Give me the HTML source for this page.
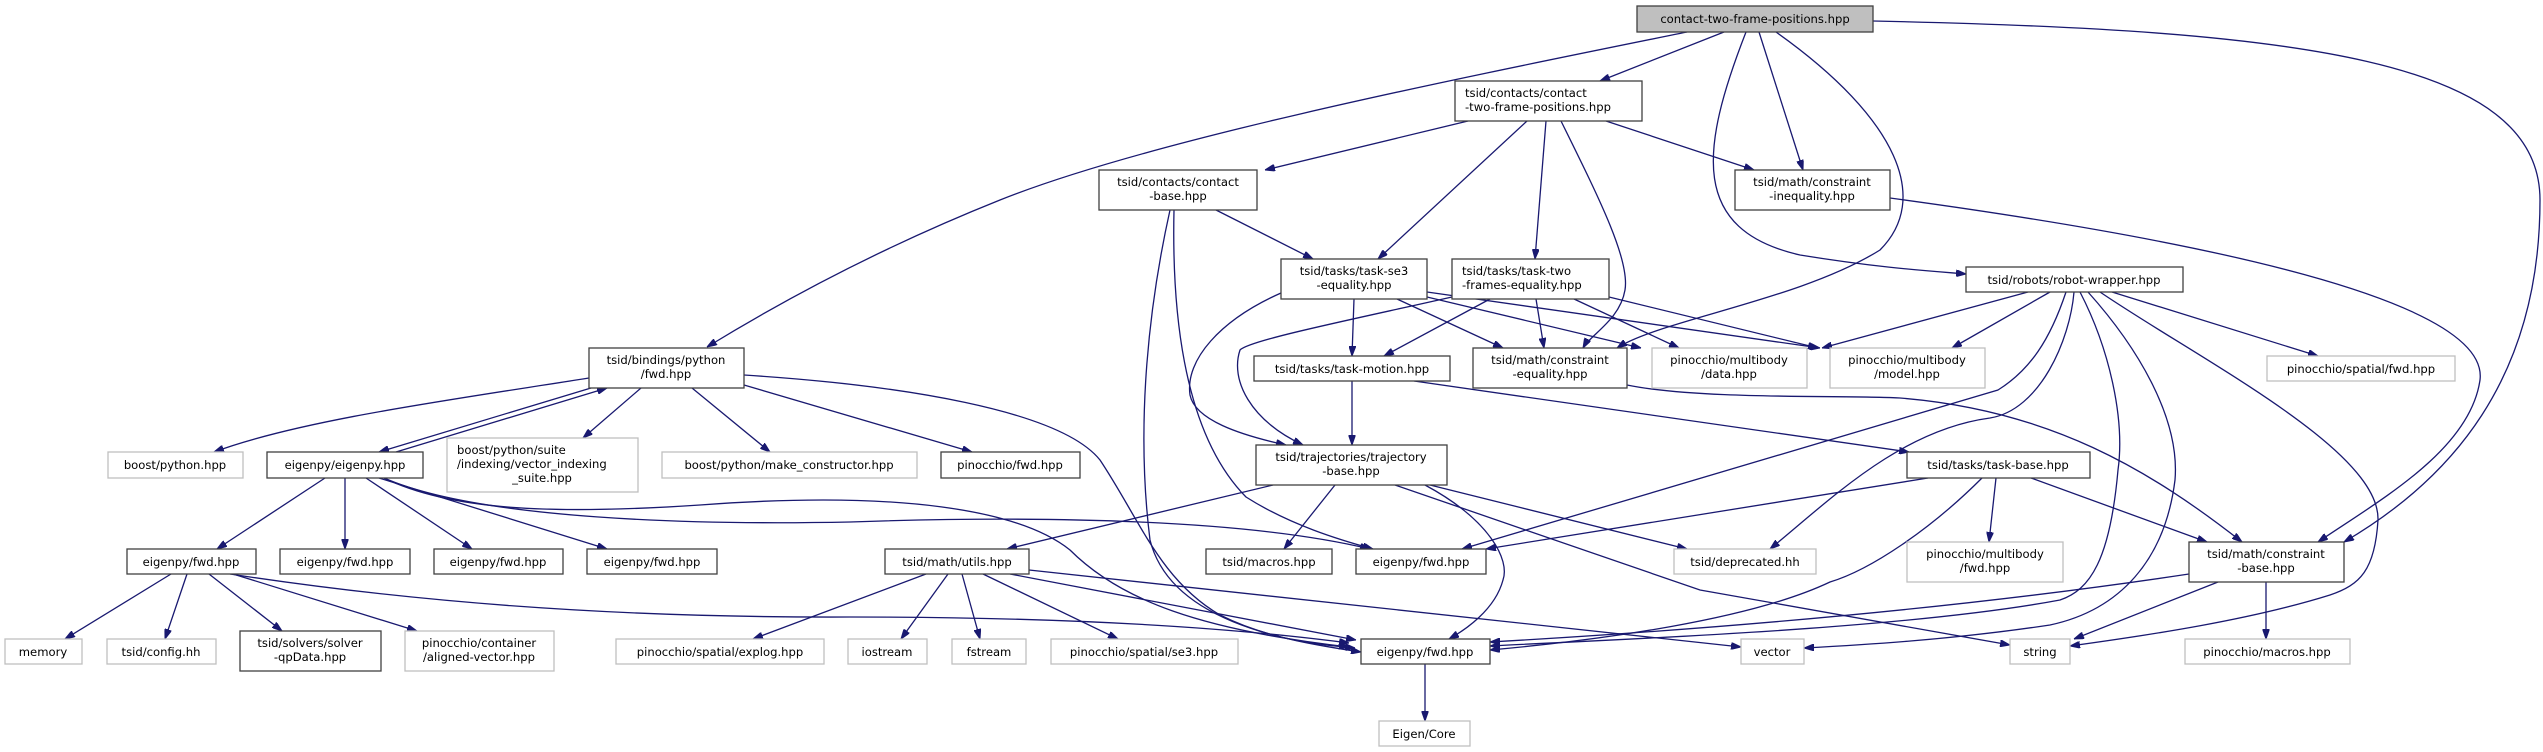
<!DOCTYPE html>
<html><head><meta charset="utf-8"><style>
html,body{margin:0;padding:0;background:#fff;}
svg{display:block;}
text{font-family:"DejaVu Sans","Liberation Sans",sans-serif;font-size:11.6px;fill:#000;}
.e{fill:none;stroke:#191970;stroke-width:1.3;}
.b{fill:#fff;stroke:#404040;stroke-width:1.3;}
.g{fill:#fff;stroke:#bfbfbf;stroke-width:1.3;}
</style></head><body>
<svg width="2543" height="752" viewBox="0 0 2543 752" xmlns="http://www.w3.org/2000/svg">
<defs>
<marker id="a" viewBox="0 0 10 7" refX="10" refY="3.5" markerWidth="10" markerHeight="7" markerUnits="userSpaceOnUse" orient="auto">
<path d="M0,0 L10,3.5 L0,7 z" fill="#191970" stroke="#191970"/>
</marker>
</defs>
<g marker-end="url(#a)">
<!-- root -->
<path class="e" d="M1687,32 C1450,80 1150,140 1000,200 C900,240 800,290 707,347"/>
<path class="e" d="M1724,32 L1600,81"/>
<path class="e" d="M1759,32 L1803,170"/>
<path class="e" d="M1746,32 C1700,150 1690,230 1800,255 C1880,268 1930,271 1966,274"/>
<path class="e" d="M1776,32 C1900,120 1930,200 1880,250 C1800,300 1660,320 1617,348"/>
<path class="e" d="M1873,21 C2300,30 2540,60 2540,200 C2540,380 2450,480 2344,542"/>
<!-- contact two frame -->
<path class="e" d="M1468,121 L1265,170"/>
<path class="e" d="M1527,121 L1378,259"/>
<path class="e" d="M1546,121 L1535,259"/>
<path class="e" d="M1561,121 C1600,200 1630,260 1625,290 C1620,320 1590,335 1583,348"/>
<path class="e" d="M1606,121 L1754,170"/>
<!-- contact base -->
<path class="e" d="M1216,210 L1313,259"/>
<path class="e" d="M1170,210 C1150,300 1135,420 1150,540 C1170,620 1280,640 1361,652"/>
<path class="e" d="M1174,210 C1172,300 1180,430 1246,497 C1290,525 1340,540 1373,549"/>
<!-- task se3 -->
<path class="e" d="M1354,299 L1352,356"/>
<path class="e" d="M1397,299 L1503,348"/>
<path class="e" d="M1427,297 L1641,348"/>
<path class="e" d="M1427,292 L1820,348"/>
<path class="e" d="M1281,293 C1220,320 1185,360 1190,395 C1195,420 1240,435 1286,445"/>
<!-- task two frames -->
<path class="e" d="M1490,299 L1384,356"/>
<path class="e" d="M1536,299 L1544,348"/>
<path class="e" d="M1574,299 L1679,348"/>
<path class="e" d="M1609,297 L1818,348"/>
<path class="e" d="M1452,297 C1350,320 1250,340 1240,350 C1230,380 1250,420 1303,445"/>
<!-- robot wrapper -->
<path class="e" d="M2028,292 L1822,348"/>
<path class="e" d="M2050,292 L1952,348"/>
<path class="e" d="M2112,292 L2318,356"/>
<path class="e" d="M2066,292 C2050,340 2030,370 1998,390 L1462,549"/>
<path class="e" d="M2074,292 C2070,340 2040,410 1990,418 C1900,430 1830,500 1770,549"/>
<path class="e" d="M2080,292 C2110,350 2125,420 2118,470 C2110,560 2090,590 2060,600 C1900,630 1600,640 1490,646"/>
<path class="e" d="M2088,292 C2140,350 2180,420 2175,480 C2165,560 2120,610 2050,625 C1950,640 1860,645 1804,648"/>
<path class="e" d="M2100,292 C2200,360 2380,450 2378,520 C2375,570 2360,585 2330,595 C2250,620 2150,635 2070,646"/>
<!-- constraint inequality -->
<path class="e" d="M1890,198 C2200,240 2490,300 2480,380 C2470,450 2380,500 2318,542"/>
<!-- constraint equality -->
<path class="e" d="M1627,385 C1700,400 1850,395 1900,398 C2050,410 2150,470 2242,542"/>
<!-- task motion -->
<path class="e" d="M1352,381 L1352,445"/>
<path class="e" d="M1414,381 L1909,452"/>
<!-- task base -->
<path class="e" d="M1928,478 L1486,549"/>
<path class="e" d="M1996,478 L1989,542"/>
<path class="e" d="M2031,478 L2207,542"/>
<path class="e" d="M1982,478 C1930,530 1870,570 1830,582 C1750,620 1600,640 1490,650"/>
<!-- constraint base -->
<path class="e" d="M2189,574 C1950,610 1700,630 1490,642"/>
<path class="e" d="M2218,582 L2074,639"/>
<path class="e" d="M2266,582 L2266,639"/>
<!-- trajectory base -->
<path class="e" d="M1273,485 L1007,549"/>
<path class="e" d="M1335,485 L1284,549"/>
<path class="e" d="M1425,485 C1490,520 1510,560 1503,580 C1495,610 1465,630 1449,639"/>
<path class="e" d="M1430,485 L1687,549"/>
<path class="e" d="M1395,485 L1700,590 L2010,645"/>
<!-- bindings -->
<path class="e" d="M589,378 C450,400 300,420 214,452"/>
<path class="e" d="M591,388 L379,452"/>
<path class="e" d="M396,452 L607,388"/>
<path class="e" d="M641,388 L583,438"/>
<path class="e" d="M692,388 L770,452"/>
<path class="e" d="M744,385 L972,452"/>
<path class="e" d="M744,375 C900,385 1060,410 1100,460 C1140,520 1160,580 1220,615 C1270,640 1320,645 1355,648"/>
<!-- eigenpy -->
<path class="e" d="M325,478 L217,549"/>
<path class="e" d="M345,478 L345,549"/>
<path class="e" d="M366,478 L472,549"/>
<path class="e" d="M379,478 L607,549"/>
<path class="e" d="M384,478 C480,520 700,525 850,522 C1050,515 1250,520 1370,549"/>
<path class="e" d="M384,478 C450,510 550,515 700,505 C900,490 1020,510 1070,550 C1120,600 1200,630 1349,647"/>
<!-- eigenpy fwd 1 -->
<path class="e" d="M171,574 L65,639"/>
<path class="e" d="M187,574 L165,639"/>
<path class="e" d="M209,574 L282,631"/>
<path class="e" d="M233,574 L417,631"/>
<path class="e" d="M230,574 C400,600 600,618 850,617 C1100,617 1250,630 1349,643"/>
<!-- math utils -->
<path class="e" d="M926,574 L753,639"/>
<path class="e" d="M948,574 L901,639"/>
<path class="e" d="M962,574 L980,639"/>
<path class="e" d="M983,574 L1118,639"/>
<path class="e" d="M1010,574 L1356,640"/>
<path class="e" d="M1029,570 L1741,647"/>
<!-- eigen core -->
<path class="e" d="M1425,664 L1425,721"/>
</g>

<!-- nodes -->
<rect x="1637" y="6" width="236" height="26" fill="#bfbfbf" stroke="#404040" stroke-width="1.3"/>
<text x="1755" y="23" text-anchor="middle">contact-two-frame-positions.hpp</text>

<rect class="b" x="1455" y="81" width="187" height="40"/>
<text x="1465" y="97">tsid/contacts/contact</text><text x="1465" y="111">-two-frame-positions.hpp</text>

<rect class="b" x="1099" y="170" width="158" height="40"/>
<text x="1178" y="186" text-anchor="middle">tsid/contacts/contact</text><text x="1178" y="200" text-anchor="middle">-base.hpp</text>

<rect class="b" x="1735" y="170" width="155" height="40"/>
<text x="1812" y="186" text-anchor="middle">tsid/math/constraint</text><text x="1812" y="200" text-anchor="middle">-inequality.hpp</text>

<rect class="b" x="1281" y="259" width="146" height="40"/>
<text x="1354" y="275" text-anchor="middle">tsid/tasks/task-se3</text><text x="1354" y="289" text-anchor="middle">-equality.hpp</text>

<rect class="b" x="1452" y="259" width="157" height="40"/>
<text x="1462" y="275">tsid/tasks/task-two</text><text x="1462" y="289">-frames-equality.hpp</text>

<rect class="b" x="1966" y="267" width="217" height="25"/>
<text x="2074" y="284" text-anchor="middle">tsid/robots/robot-wrapper.hpp</text>

<rect class="b" x="589" y="348" width="155" height="40"/>
<text x="666" y="364" text-anchor="middle">tsid/bindings/python</text><text x="666" y="378" text-anchor="middle">/fwd.hpp</text>

<rect class="b" x="1254" y="356" width="196" height="25"/>
<text x="1352" y="373" text-anchor="middle">tsid/tasks/task-motion.hpp</text>

<rect class="b" x="1473" y="348" width="154" height="40"/>
<text x="1550" y="364" text-anchor="middle">tsid/math/constraint</text><text x="1550" y="378" text-anchor="middle">-equality.hpp</text>

<rect class="g" x="1652" y="348" width="155" height="40"/>
<text x="1729" y="364" text-anchor="middle">pinocchio/multibody</text><text x="1729" y="378" text-anchor="middle">/data.hpp</text>

<rect class="g" x="1830" y="348" width="155" height="40"/>
<text x="1907" y="364" text-anchor="middle">pinocchio/multibody</text><text x="1907" y="378" text-anchor="middle">/model.hpp</text>

<rect class="g" x="2267" y="356" width="188" height="25"/>
<text x="2361" y="373" text-anchor="middle">pinocchio/spatial/fwd.hpp</text>

<rect class="g" x="108" y="452" width="135" height="26"/>
<text x="175" y="469" text-anchor="middle">boost/python.hpp</text>

<rect class="b" x="267" y="452" width="156" height="26"/>
<text x="345" y="469" text-anchor="middle">eigenpy/eigenpy.hpp</text>

<rect class="g" x="447" y="438" width="191" height="54"/>
<text x="457" y="454">boost/python/suite</text><text x="457" y="468">/indexing/vector_indexing</text><text x="542" y="482" text-anchor="middle">_suite.hpp</text>

<rect class="g" x="662" y="452" width="255" height="26"/>
<text x="789" y="469" text-anchor="middle">boost/python/make_constructor.hpp</text>

<rect class="b" x="941" y="452" width="139" height="26"/>
<text x="1010" y="469" text-anchor="middle">pinocchio/fwd.hpp</text>

<rect class="b" x="1256" y="445" width="191" height="40"/>
<text x="1351" y="461" text-anchor="middle">tsid/trajectories/trajectory</text><text x="1351" y="475" text-anchor="middle">-base.hpp</text>

<rect class="b" x="1907" y="452" width="183" height="26"/>
<text x="1998" y="469" text-anchor="middle">tsid/tasks/task-base.hpp</text>

<rect class="b" x="127" y="549" width="129" height="25"/>
<text x="191" y="566" text-anchor="middle">eigenpy/fwd.hpp</text>
<rect class="b" x="280" y="549" width="130" height="25"/>
<text x="345" y="566" text-anchor="middle">eigenpy/fwd.hpp</text>
<rect class="b" x="434" y="549" width="129" height="25"/>
<text x="498" y="566" text-anchor="middle">eigenpy/fwd.hpp</text>
<rect class="b" x="587" y="549" width="130" height="25"/>
<text x="652" y="566" text-anchor="middle">eigenpy/fwd.hpp</text>

<rect class="b" x="885" y="549" width="144" height="25"/>
<text x="957" y="566" text-anchor="middle">tsid/math/utils.hpp</text>
<rect class="b" x="1206" y="549" width="126" height="25"/>
<text x="1269" y="566" text-anchor="middle">tsid/macros.hpp</text>
<rect class="b" x="1356" y="549" width="130" height="25"/>
<text x="1421" y="566" text-anchor="middle">eigenpy/fwd.hpp</text>
<rect class="g" x="1674" y="549" width="142" height="25"/>
<text x="1745" y="566" text-anchor="middle">tsid/deprecated.hh</text>

<rect class="g" x="1907" y="542" width="156" height="40"/>
<text x="1985" y="558" text-anchor="middle">pinocchio/multibody</text><text x="1985" y="572" text-anchor="middle">/fwd.hpp</text>

<rect class="b" x="2189" y="542" width="155" height="40"/>
<text x="2266" y="558" text-anchor="middle">tsid/math/constraint</text><text x="2266" y="572" text-anchor="middle">-base.hpp</text>

<rect class="g" x="5" y="639" width="77" height="25"/>
<text x="43" y="656" text-anchor="middle">memory</text>
<rect class="g" x="107" y="639" width="109" height="25"/>
<text x="161" y="656" text-anchor="middle">tsid/config.hh</text>
<rect class="b" x="240" y="631" width="141" height="40"/>
<text x="310" y="647" text-anchor="middle">tsid/solvers/solver</text><text x="310" y="661" text-anchor="middle">-qpData.hpp</text>
<rect class="g" x="405" y="631" width="149" height="40"/>
<text x="479" y="647" text-anchor="middle">pinocchio/container</text><text x="479" y="661" text-anchor="middle">/aligned-vector.hpp</text>
<rect class="g" x="616" y="639" width="208" height="25"/>
<text x="720" y="656" text-anchor="middle">pinocchio/spatial/explog.hpp</text>
<rect class="g" x="848" y="639" width="79" height="25"/>
<text x="887" y="656" text-anchor="middle">iostream</text>
<rect class="g" x="952" y="639" width="74" height="25"/>
<text x="989" y="656" text-anchor="middle">fstream</text>
<rect class="g" x="1051" y="639" width="187" height="25"/>
<text x="1144" y="656" text-anchor="middle">pinocchio/spatial/se3.hpp</text>
<rect class="b" x="1361" y="639" width="129" height="25"/>
<text x="1425" y="656" text-anchor="middle">eigenpy/fwd.hpp</text>
<rect class="g" x="1741" y="639" width="63" height="25"/>
<text x="1772" y="656" text-anchor="middle">vector</text>
<rect class="g" x="2010" y="639" width="60" height="25"/>
<text x="2040" y="656" text-anchor="middle">string</text>
<rect class="g" x="2185" y="639" width="165" height="25"/>
<text x="2267" y="656" text-anchor="middle">pinocchio/macros.hpp</text>
<rect class="g" x="1379" y="721" width="91" height="25"/>
<text x="1424" y="738" text-anchor="middle">Eigen/Core</text>
</svg>
</body></html>
